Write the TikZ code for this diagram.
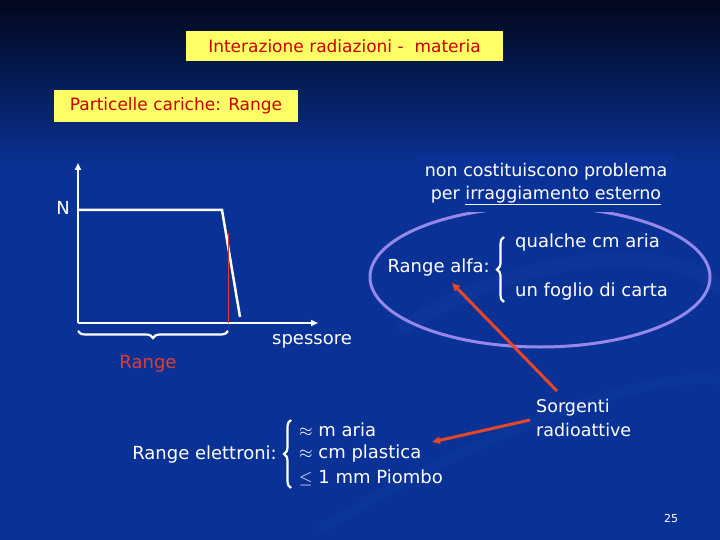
\documentclass[tikz,border=0pt]{standalone}
\usepackage{fontspec}
\setmainfont{DejaVu Sans}
\usetikzlibrary{arrows.meta,decorations.pathreplacing}
\definecolor{bgblue}{RGB}{10,50,150}
\definecolor{bgdark}{RGB}{2,8,28}
\definecolor{boxyellow}{RGB}{255,255,102}
\definecolor{boxred}{RGB}{204,0,0}
\definecolor{rangered}{RGB}{225,60,50}
\definecolor{arrowred}{RGB}{230,70,40}
\definecolor{ellcol}{RGB}{150,135,235}
\definecolor{swoosh}{RGB}{20,62,165}
\tikzset{
  titlebox/.style={fill=boxyellow, text=boxred, font=\fontsize{17}{20}\selectfont, inner sep=0pt},
  wtext/.style={text=white, font=\fontsize{18}{20}\selectfont, inner sep=0pt},
  axisline/.style={white, line width=2pt, -{Triangle[length=7pt,width=6pt]}},
  curveline/.style={white, line width=2.5pt, line join=miter},
  bracestyle/.style={white, line width=2.2pt, decorate, decoration={brace, amplitude=7pt}},
  bracemirror/.style={white, line width=2.2pt, decorate, decoration={brace, mirror, amplitude=7pt}},
  redarrow/.style={arrowred, line width=3pt, -{Triangle[length=8pt,width=7pt]}},
}
\begin{document}
\begin{tikzpicture}[x=1pt,y=-1pt]
\useasboundingbox (0,0) rectangle (720,540);
% background
\fill[bgblue] (0,0) rectangle (720,540);
\shade[top color=bgdark, bottom color=bgblue] (0,0) rectangle (720,170);
% faint swooshes
\draw[swoosh, line width=14pt, opacity=0.3] (400,330) .. controls (520,250) and (680,240) .. (720,290);
\draw[swoosh, line width=10pt, opacity=0.25] (320,530) .. controls (480,430) and (650,370) .. (720,380);
% title boxes
\node[titlebox, minimum width=317pt, minimum height=30pt] (title) at (344.5,46) {Interazione radiazioni -\ \ materia};
\node[titlebox, minimum width=244pt, minimum height=32pt] (sub) at (176,106) {Particelle cariche: Range};
% graph
\coordinate (O) at (78,323);
\coordinate (Ytop) at (78,163);
\coordinate (Xend) at (318,323);
\coordinate (c1) at (78,210);
\coordinate (c2) at (222,210);
\coordinate (c3) at (240,317);
\coordinate (r1) at (228,233);
\coordinate (r2) at (228,323);
\draw[axisline] (O) -- (Ytop);
\draw[axisline] (O) -- (Xend);
\draw[curveline] (c1) -- (c2) -- (c3);
\draw[rangered, line width=0.8pt] (r1) -- (r2);
\coordinate (b1) at (78,331);
\coordinate (b2) at (228,331);
\draw[bracemirror] (b1) -- (b2);
\node[wtext] (N) at (63,208) {N};
\node[wtext] (spess) at (312,341) {spessore};
\node[wtext, text=rangered] (rng) at (148,364) {Range};
% ellipse
\draw[ellcol, line width=3pt] (540,277) ellipse [x radius=170, y radius=70];
\node[fill=bgblue, minimum width=258pt, minimum height=56pt, inner sep=0pt] (cover) at (547,184) {};
\node[wtext, align=center, font=\fontsize{17.5}{23}\selectfont] (noncost) at (546,184) {non costituiscono problema\\per \underline{irraggiamento esterno}};
\node[wtext, anchor=east] (alfa) at (490,268) {Range alfa:};
\coordinate (ab1) at (504,302);
\coordinate (ab2) at (504,237);
\draw[bracestyle] (ab1) -- (ab2);
\node[wtext, anchor=west] (q1) at (515,243) {qualche cm aria};
\node[wtext, anchor=west] (q2) at (515,292) {un foglio di carta};
% electrons
\node[wtext, anchor=east] (elet) at (277,455) {Range elettroni:};
\coordinate (eb1) at (291,488);
\coordinate (eb2) at (291,420);
\draw[bracestyle] (eb1) -- (eb2);
\node[wtext, anchor=west] (e1) at (299,430) {$\approx$ m aria};
\node[wtext, anchor=west] (e2) at (299,454) {$\approx$ cm plastica};
\node[wtext, anchor=west] (e3) at (299,478) {$\leq$ 1 mm Piombo};
% sources
\node[wtext, align=left, anchor=north west, font=\fontsize{17.5}{24}\selectfont] (sorg) at (536,399) {Sorgenti\\radioattive};
\coordinate (a1s) at (557,391);
\coordinate (a1e) at (452,283);
\coordinate (a2s) at (530,420);
\coordinate (a2e) at (432,442);
\draw[redarrow] (a1s) -- (a1e);
\draw[redarrow] (a2s) -- (a2e);
\node[text=white, font=\fontsize{11}{12}\selectfont, inner sep=0pt] (pg) at (671,518) {25};
\end{tikzpicture}
\end{document}
